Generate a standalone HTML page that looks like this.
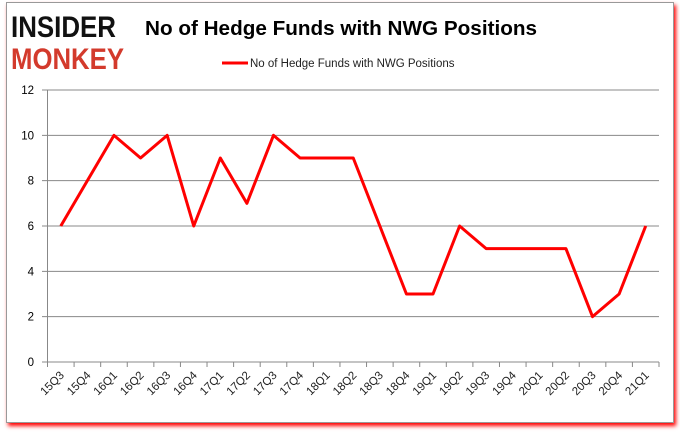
<!DOCTYPE html>
<html><head><meta charset="utf-8"><style>
body{margin:0;width:680px;height:433px;background:#fff;overflow:hidden;font-family:"Liberation Sans",sans-serif}
#frame{position:absolute;left:6px;top:2px;width:666px;height:419px;border:1px solid #999;box-shadow:2px 3px 4px #f00;background:#fff}
</style></head><body>
<div id="frame"></div>
<svg width="680" height="433" style="position:absolute;left:0;top:0">
<text x="11" y="37" font-family="Liberation Sans" font-weight="bold" font-size="30" fill="#111" textLength="105" lengthAdjust="spacingAndGlyphs">INSIDER</text>
<text x="11" y="69" font-family="Liberation Sans" font-weight="bold" font-size="30" fill="#d33a2c" textLength="113" lengthAdjust="spacingAndGlyphs">MONKEY</text>
<text x="341" y="35" text-anchor="middle" font-family="Liberation Sans" font-weight="bold" font-size="20" fill="#000" textLength="392" lengthAdjust="spacingAndGlyphs">No of Hedge Funds with NWG Positions</text>
<line x1="222" y1="63" x2="248" y2="63" stroke="#f00" stroke-width="3"/>
<text x="250" y="67" font-size="11.5" fill="#222">No of Hedge Funds with NWG Positions</text>
<g id="g"></g>
</svg>
<script>
const categories=["15Q3","15Q4","16Q1","16Q2","16Q3","16Q4","17Q1","17Q2","17Q3","17Q4","18Q1","18Q2","18Q3","18Q4","19Q1","19Q2","19Q3","19Q4","20Q1","20Q2","20Q3","20Q4","21Q1"];
const values=[6,8,10,9,10,6,9,7,10,9,9,9,6,3,3,6,5,5,5,5,2,3,6];
const yTicks=[0,2,4,6,8,10,12];
const L=47.5,R=659,T=90,B=362;
const bw=(R-L)/categories.length;
const x=i=>L+bw*(i+0.5);
const y=v=>B-(v/12)*(B-T);
const g=document.getElementById('g');
const NS='http://www.w3.org/2000/svg';
function mk(t,a){const e=document.createElementNS(NS,t);for(const k in a)e.setAttribute(k,a[k]);g.appendChild(e);return e;}
yTicks.forEach(v=>{
 const l=mk('line',{x1:42,x2:R,y1:y(v),y2:y(v),stroke:'#888','stroke-width':1});
 
 
 const t=mk('text',{x:34,y:y(v)+4,'text-anchor':'end','font-size':11.5,fill:'#000'});
 t.textContent=v;
 
 
});
const ax=mk('line',{x1:L,x2:L,y1:T,y2:B+5,stroke:'#888'});


for(let i=0;i<=categories.length;i++){
 const tk=mk('line',{x1:L+bw*i,x2:L+bw*i,y1:B,y2:B+5,stroke:'#888'});
 
 
}
categories.forEach((c,i)=>{
 const t=mk('text',{x:x(i)+4,y:B+14,'text-anchor':'end','font-size':11.5,fill:'#222',transform:`rotate(-45 ${x(i)+4} ${B+14})`});
 t.textContent=c;
 
 
});
const p=mk('polyline',{points:values.map((v,i)=>x(i)+','+y(v)).join(' '),fill:'none',stroke:'#f00','stroke-width':3,'stroke-linejoin':'round'});


</script>
</body></html>
